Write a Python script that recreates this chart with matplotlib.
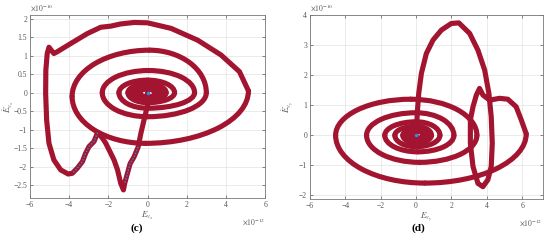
import matplotlib
matplotlib.use('Agg')
import matplotlib.pyplot as plt
from matplotlib.patches import Arc
import numpy as np

plt.rcParams['font.family'] = ['Liberation Serif', 'DejaVu Serif']
plt.rcParams['mathtext.fontset'] = 'stix'

red = '#A2142F'
blue = '#2E8FE0'
lw = 3.7

# panel (c): transient path (x in 1e-12, y in 1e-10)
c_path_x = [0.0, 0.02, -0.14, -0.34, -0.48, -0.69, -0.89, -1.03, -1.17, -1.23, -1.37, -1.53, -1.71,
            -1.96, -2.13, -2.3, -2.55, -2.73, -2.99, -3.16, -3.32, -3.58, -3.84, -4.05, -4.43, -4.78,
            -5.03, -5.15, -5.2, -5.19, -5.12, -5.03, -4.78, -4.6, -3.92, -3.07, -2.39, -1.88, -1.37,
            -0.68, 0.0, 1.2, 2.56, 3.75, 4.69, 5.15]
c_path_y = [0.0, -0.3, -0.65, -1.1, -1.47, -1.74, -1.92, -2.19, -2.46, -2.63, -2.45, -2.09, -1.82,
            -1.55, -1.37, -1.23, -1.08, -1.32, -1.46, -1.64, -1.86, -2.04, -2.18, -2.2, -2.09, -1.82,
            -1.37, -0.74, -0.02, 0.61, 1.06, 1.23, 1.06, 1.11, 1.33, 1.6, 1.77, 1.8, 1.86,
            1.9, 1.89, 1.74, 1.42, 1.02, 0.57, 0.05]
# panel (c): spiral extremes, clockwise: right, bottom, left, top, ...
c_spiral_x = [5.15, -0.1, -3.85, 0.1, 3.0, 0.0, -2.31, 0.05, 2.4, 0.0, -1.46, 0.0, 1.38, 0.0,
              -1.0, 0.0, 0.95, 0.0, -0.75, 0.0, 0.72, 0.0, -0.58, 0.0, 0.55, 0.0, -0.4, 0.0, 0.35]
c_spiral_y = [0.05, -1.37, -0.1, 1.15, 0.0, -0.65, 0.0, 0.6, 0.0, -0.42, 0.0, 0.34, 0.0, -0.27,
              0.0, 0.24, 0.0, -0.2, 0.0, 0.19, 0.0, -0.16, 0.0, 0.15, 0.0, -0.11, 0.0, 0.1, 0.0]
c_blue_a = (4, 9)
c_blue_b = (16, 23)

# panel (d)
d_path_x = [0.0, 0.08, 0.15, 0.3, 0.58, 0.96, 1.43, 1.99, 2.42, 3.03, 3.5, 3.88, 4.12, 4.25, 4.31,
            4.25, 4.06, 3.78, 3.5, 3.22, 3.07, 3.07, 3.22, 3.41, 3.59, 3.78, 4.16, 4.72, 5.19, 5.66,
            5.95, 6.23]
d_path_y = [0.0, 0.84, 1.39, 2.06, 2.72, 3.17, 3.5, 3.72, 3.74, 3.39, 2.83, 2.17, 1.39, 0.62, -0.27,
            -1.04, -1.48, -1.71, -1.6, -1.04, -0.27, 0.51, 0.95, 1.34, 1.56, 1.34, 1.17, 1.23, 1.2, 0.95,
            0.51, 0.05]
d_spiral_x = [6.23, 0.5, -4.55, -0.3, 3.44, 0.2, -2.8, 0.0, 2.14, 0.1, -1.77, 0.0, 1.35, 0.0,
              -1.2, 0.0, 0.87, 0.0, -0.75, 0.0, 0.65, 0.0, -0.5, 0.0, 0.4, 0.0, -0.25]
d_spiral_y = [0.05, -1.59, 0.0, 1.2, 0.0, -0.9, 0.0, 0.75, 0.0, -0.55, 0.0, 0.45, 0.0, -0.38,
              0.0, 0.3, 0.0, -0.25, 0.0, 0.2, 0.0, -0.17, 0.0, 0.14, 0.0, -0.1, 0.0]


def draw_spiral(ax, xs, ys):
    # quarter arcs between successive extreme points (clockwise)
    for i in range(len(xs) - 1):
        x1, y1, x2, y2 = xs[i], ys[i], xs[i + 1], ys[i + 1]
        k = i % 4
        if k == 0:
            cx, cy, t1, t2 = x2, y1, 270, 360
        elif k == 1:
            cx, cy, t1, t2 = x1, y2, 180, 270
        elif k == 2:
            cx, cy, t1, t2 = x2, y1, 90, 180
        else:
            cx, cy, t1, t2 = x1, y2, 0, 90
        w = 2 * abs(x2 - x1)
        h = 2 * abs(y2 - y1)
        ax.add_patch(Arc((cx, cy), w, h, theta1=t1, theta2=t2, color=red, lw=lw,
                         capstyle='round'))


def style(ax, xlim, ylim, yticks, xlab, ylab):
    ax.set_xlim(xlim)
    ax.set_ylim(ylim)
    ax.set_xticks(np.arange(-6, 7, 2))
    ax.set_yticks(yticks)
    ax.set_yticklabels(['{:g}'.format(t).replace('-', '\u2212') for t in yticks])
    ax.set_xticklabels(['{:g}'.format(t).replace('-', '\u2212') for t in np.arange(-6, 7, 2)])
    ax.grid(True, color='#e3e3e3', lw=0.5)
    ax.set_axisbelow(True)
    ax.tick_params(direction='in', length=2, width=0.5, labelsize=5.5, colors='#555555',
                   top=True, right=True, pad=2)
    for s in ax.spines.values():
        s.set_color('#777777')
        s.set_linewidth(0.6)
    ax.set_xlabel(xlab, fontsize=6.5, color='#555555', labelpad=1)
    ax.set_ylabel(ylab, fontsize=6.5, color='#555555')
    ax.yaxis.set_label_coords(-0.06, 0.5)
    ax.text(0.0, 1.01, r'$\times 10^{-10}$', transform=ax.transAxes, fontsize=5.5,
            color='#555555', ha='left', va='bottom')
    ax.text(1.0, -0.1, r'$\times 10^{-12}$', transform=ax.transAxes, fontsize=5.5,
            color='#555555', ha='right', va='top')


fig = plt.figure(figsize=(5.5, 2.43), dpi=100)
ax1 = fig.add_axes([0.0545, 0.185, 0.4275, 0.753])
ax2 = fig.add_axes([0.5636, 0.181, 0.4234, 0.757])

draw_spiral(ax1, c_spiral_x, c_spiral_y)
ax1.plot(c_path_x, c_path_y, color=red, lw=lw, solid_joinstyle='round', solid_capstyle='round')
ax1.plot(c_path_x[c_blue_a[0]:c_blue_a[1]], c_path_y[c_blue_a[0]:c_blue_a[1]], color=blue,
         lw=1.0, ls=(0, (1, 1.2)))
ax1.plot(c_path_x[c_blue_b[0]:c_blue_b[1]], c_path_y[c_blue_b[0]:c_blue_b[1]], color=blue,
         lw=1.0, ls=(0, (1, 1.2)))
ax1.plot([0], [0], 'o', color=blue, ms=2.5, mec='none')
style(ax1, (-6, 6), (-2.85, 2.1), [-2.5, -2, -1.5, -1, -0.5, 0, 0.5, 1, 1.5, 2],
      r'$E_{v_x}$', r'$\dot{E}_{v_x}$')

draw_spiral(ax2, d_spiral_x, d_spiral_y)
ax2.plot(d_path_x, d_path_y, color=red, lw=lw, solid_joinstyle='round', solid_capstyle='round')
ax2.plot([0], [0], 'o', color=blue, ms=2.5, mec='none')
style(ax2, (-6, 7.17), (-2.12, 4), [-2, -1, 0, 1, 2, 3, 4], r'$E_{v_y}$', r'$\dot{E}_{v_y}$')

fig.text(137 / 550, 1 - 228 / 243, '(c)', fontsize=8, fontweight='bold', ha='center', va='center')
fig.text(418 / 550, 1 - 228 / 243, '(d)', fontsize=8, fontweight='bold', ha='center', va='center')

fig.savefig('out.png', dpi=100)
